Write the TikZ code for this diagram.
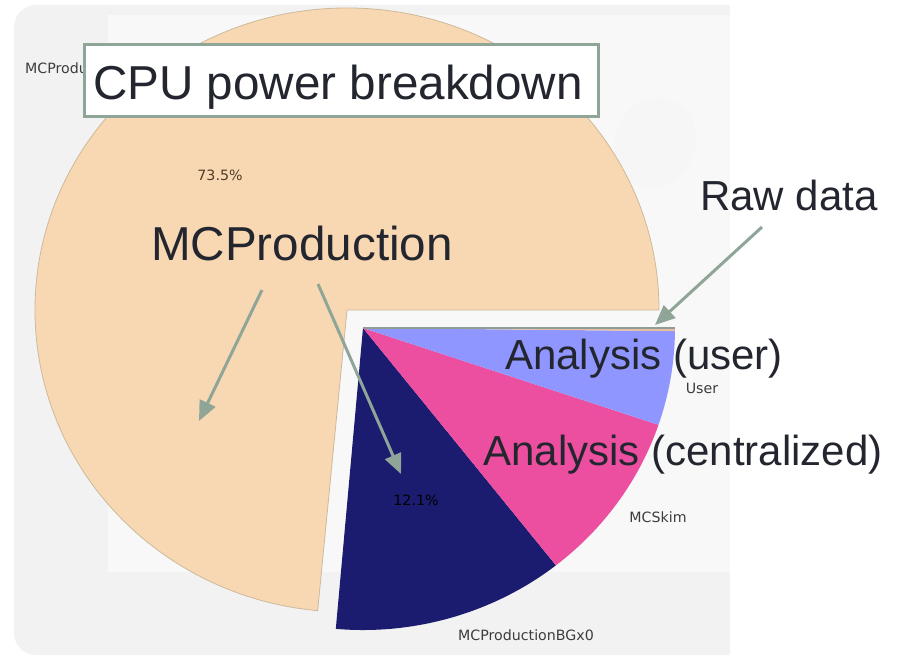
\documentclass[tikz,border=0pt]{standalone}
\usepackage{fontspec}
\setmainfont{Liberation Sans}
\newfontfamily\piefont{DejaVu Sans}
\usetikzlibrary{arrows.meta}
\definecolor{peach}{RGB}{248,216,178}
\definecolor{peachedge}{RGB}{205,185,155}
\definecolor{navyc}{RGB}{27,27,112}
\definecolor{pinkc}{RGB}{236,78,160}
\definecolor{bluec}{RGB}{143,150,255}
\definecolor{rawc}{RGB}{232,188,160}
\definecolor{arrowc}{RGB}{143,165,152}
\definecolor{textc}{RGB}{35,38,47}
\definecolor{bggray}{RGB}{242,242,242}
\definecolor{bglight}{RGB}{248,248,248}
\definecolor{pietextc}{RGB}{60,60,60}
\begin{document}
\begin{tikzpicture}[x=1pt,y=1pt,
  bigtext/.style={font=\fontsize{47.6}{50}\selectfont, text=textc, inner sep=0pt},
  labtext/.style={font=\fontsize{42}{45}\selectfont, text=textc, inner sep=0pt},
  pietext/.style={font=\piefont\fontsize{14.2}{15}\selectfont, text=pietextc, inner sep=0pt},
  callout/.style={draw=arrowc, line width=3pt, -{Triangle[length=20pt,width=17pt]}},
  titlebox/.style={draw=arrowc, line width=3pt, fill=white, inner sep=0pt, minimum width=514pt, minimum height=72pt}
]
\useasboundingbox (0,0) rectangle (897,-658);
\fill[white] (0,0) rectangle (897,-658);
% background
\fill[bggray, rounded corners=22pt] (14,-5) rectangle (770,-655);
\fill[white] (730,0) rectangle (897,-658);
\fill[bglight] (108,-15) rectangle (730,-572);
\fill[bggray!40!bglight, rotate around={-20:(655,-143)}] (655,-143) ellipse[x radius=40, y radius=46];
% big wedge (MCProduction)
\begin{scope}[shift={(347,-310)}, yscale=0.968]
  \filldraw[fill=peach, draw=peachedge, line width=0.8pt]
    (0,0) -- (0:312) arc[start angle=0, end angle=264.6, radius=312] -- cycle;
\end{scope}
% exploded slices
\begin{scope}[shift={(363,-328)}, yscale=0.968]
  \fill[navyc] (0,0) -- (-51.8:312) arc[start angle=-51.8, end angle=-95.0, radius=312] -- cycle;
  \fill[pinkc] (0,0) -- (-18.7:312) arc[start angle=-18.7, end angle=-51.8, radius=312] -- cycle;
  \fill[bluec] (0,0) -- (-0.6:312) arc[start angle=-0.6, end angle=-18.7, radius=312] -- cycle;
  \fill[rawc] (0,0) -- (0:312) arc[start angle=0, end angle=-0.6, radius=312] -- cycle;
  \draw[arrowc!85!gray, line width=1.2pt] (0,0) -- (0:312);
\end{scope}
% small pie labels
\node[pietext, anchor=base west] (mcsmall) at (25,-74) {MCProdu};
\node[pietext, anchor=base, text={rgb,255:red,80;green,60;blue,40}] (pct1) at (220,-180) {73.5\%};
\node[pietext, anchor=base, text=black] (pct2) at (416,-505) {12.1\%};
\node[pietext, anchor=base] (user) at (702,-393) {User};
\node[pietext, anchor=base] (skim) at (658,-522) {MCSkim};
\node[pietext, anchor=base] (bgx) at (526,-640) {MCProductionBGx0};
% title
\node[titlebox] (title) at (341,-81) {};
\node[bigtext, anchor=base] (titletext) at (338,-100) {CPU power breakdown};
% annotation labels
\node[bigtext, anchor=base] (mcprod) at (302,-260) {MCProduction};
\node[labtext, anchor=base] (raw) at (789,-210) {Raw data};
\node[labtext, anchor=base] (anuser) at (644,-369) {Analysis (user)};
\node[labtext, anchor=base] (ancent) at (683,-465) {Analysis (centralized)};
% callouts
\coordinate (a1s) at (262,-290);
\coordinate (a1e) at (199,-421);
\coordinate (a2s) at (318,-284);
\coordinate (a2e) at (401,-474);
\coordinate (a3s) at (762,-227);
\coordinate (a3e) at (655,-325);
\draw[callout] (a1s) -- (a1e);
\draw[callout] (a2s) -- (a2e);
\draw[callout] (a3s) -- (a3e);
\end{tikzpicture}
\end{document}
